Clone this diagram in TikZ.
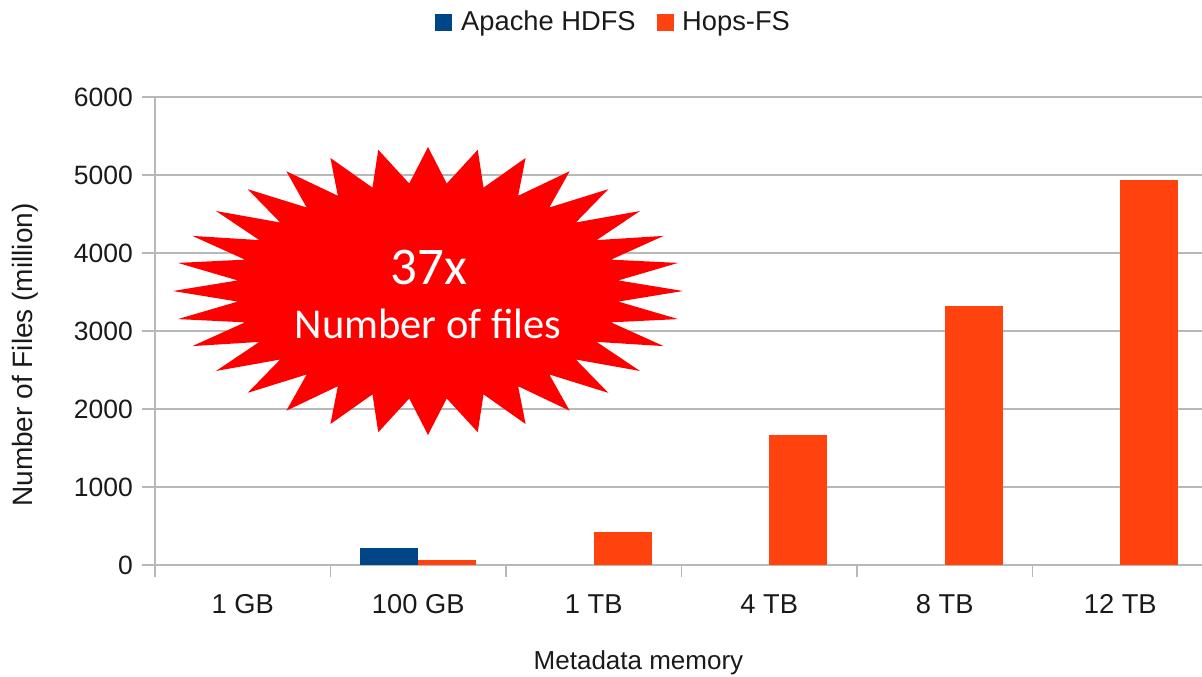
\documentclass[tikz,border=0pt]{standalone}
\usepackage{fontspec}
\setmainfont{Liberation Sans}
\newfontfamily\burstfont{Carlito}
\definecolor{hdfsblue}{HTML}{004586}
\definecolor{hopsorange}{HTML}{FF420E}
\definecolor{gridgray}{HTML}{B8B8B8}
\definecolor{inkdark}{HTML}{1A1A1A}
\definecolor{burstred}{HTML}{FF0000}
\newcommand\hdfsbarat[2]{\fill[hdfsbar] ({#1-58},{565-0.078*#2}) rectangle (#1,565);}
\newcommand\hopsbarat[2]{\fill[hopsbar] (#1,{565-0.078*#2}) rectangle ({#1+58},565);}
\begin{document}
\begin{tikzpicture}[x=1pt,y=-1pt,
  gridline/.style={draw=gridgray,line width=1.6pt},
  axisline/.style={draw=gridgray,line width=1.6pt},
  lbl/.style={font=\fontsize{26.5}{30}\selectfont,text=inkdark,inner sep=0pt},
  biglbl/.style={lbl,font=\fontsize{27.3}{31}\selectfont},
  hdfsbar/.style={fill=hdfsblue},
  hopsbar/.style={fill=hopsorange},
  burst/.style={fill=burstred},
  bursttext/.style={text=white,inner sep=0pt,anchor=base}]
\useasboundingbox (0,0) rectangle (1202,677);

% horizontal gridlines with their ticks and value labels (78 px per 1000)
\foreach \v in {0,...,6}{
  \pgfmathsetmacro\yy{565-78*\v}
  \pgfmathtruncatemacro\lab{\v*1000}
  \draw[gridline] (142,\yy) -- (1202,\yy);
  \node[lbl,anchor=east] (ytick\v) at (133,\yy) {\lab};
}

% vertical axis and category separators
\draw[axisline] (155,97) -- (155,577);
\foreach \i in {1,...,6}{
  \pgfmathsetmacro\xx{155+175.5*\i}
  \draw[axisline] (\xx,565) -- (\xx,577);
}

% bars: blue left of the category centre, orange right of it
\hdfsbarat{418}{218}
\hopsbarat{418}{64}
\hopsbarat{594}{423}
\hopsbarat{769}{1667}
\hopsbarat{945}{3321}
\hopsbarat{1120}{4936}

% category labels
\foreach \c/\t [count=\k] in {242.75/1 GB,418.25/100 GB,593.75/1 TB,769.25/4 TB,944.75/8 TB,1120.25/12 TB}{
  \node[biglbl,anchor=base] (cat\k) at (\c,613) {\t};
}

% axis titles
\node[lbl,font=\fontsize{26}{30}\selectfont,anchor=base] (xtitle) at (638.5,669) {Metadata memory};
\node[lbl,font=\fontsize{28}{32}\selectfont,rotate=90] (ytitle) at (25,355) {Number of Files (million)};

% legend
\fill[hdfsblue] (435,14) rectangle (452,31);
\node[biglbl,anchor=base west] (leghdfs) at (461,31) {Apache HDFS};
\fill[hopsorange] (657,14) rectangle (674,31);
\node[biglbl,anchor=base west] (leghops) at (682,31) {Hops-FS};

% 32-point starburst on an ellipse
\fill[burst] plot[samples=64,domain=0:63,variable=\k]
  ({428+255*ifthenelse(mod(round(\k),2)==0,1,0.75)*sin(\k*5.625)},
   {291-144*ifthenelse(mod(round(\k),2)==0,1,0.75)*cos(\k*5.625)}) -- cycle;
\node[bursttext,font=\burstfont\fontsize{53}{56}\selectfont] (factor) at (429,284) {37x};
\node[bursttext,font=\burstfont\fontsize{42.5}{46}\selectfont] (what) at (428,338) {Number of files};
\end{tikzpicture}
\end{document}
